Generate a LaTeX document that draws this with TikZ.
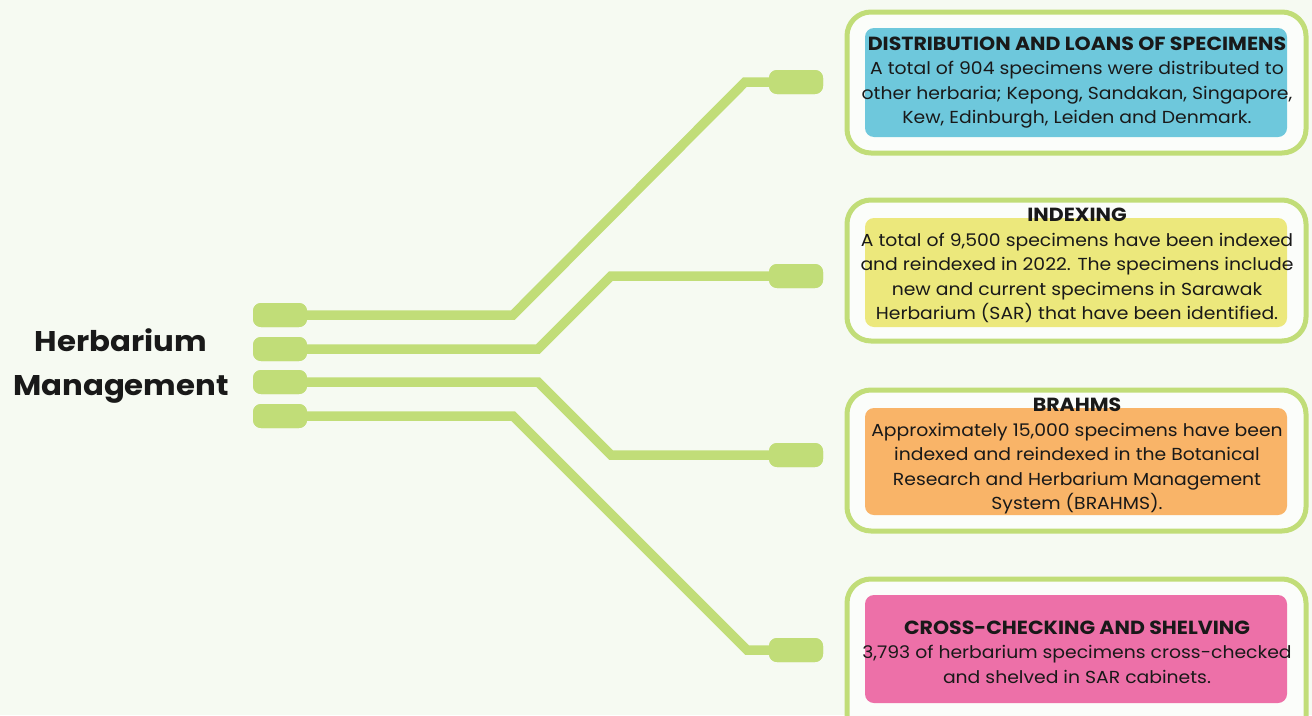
\documentclass[tikz,border=0pt]{standalone}
\usepackage{fontspec}
\setmainfont{Poppins}[FakeStretch=1.08]
\definecolor{bg}{RGB}{246,250,242}
\definecolor{leaf}{RGB}{193,221,120}
\definecolor{cblue}{RGB}{110,200,220}
\definecolor{cyellow}{RGB}{236,232,124}
\definecolor{corange}{RGB}{249,180,104}
\definecolor{cpink}{RGB}{237,112,168}
\definecolor{ink}{RGB}{25,25,25}
\newcommand{\cardtitle}[1]{{\fontsize{19}{24.5}\selectfont\bfseries #1}}
\begin{document}
\begin{tikzpicture}[x=1pt,y=-1pt,
  pad/.style={fill=leaf, rounded corners=8pt, minimum width=54pt, minimum height=24pt, inner sep=0pt},
  wire/.style={draw=leaf, line width=9.5pt, line join=miter},
  frame/.style={draw=leaf, line width=5pt, fill=white!60!bg, rounded corners=24pt},
  card/.style={rounded corners=9pt},
  txt/.style={align=center, text=ink, font=\fontsize{17.4}{24.5}\selectfont}
]
\useasboundingbox[fill=bg] (0,0) rectangle (1312,715);

% frames and cards
\draw[frame] (847,12) rectangle (1306,153);
\fill[card,cblue] (865,28) rectangle (1287,137);
\draw[frame] (847,200) rectangle (1306,341);
\fill[card,cyellow] (865,218) rectangle (1287,327);
\draw[frame] (847,390) rectangle (1306,531);
\fill[card,corange] (865,408) rectangle (1287,515);
\draw[frame] (847,579) rectangle (1306,740);
\fill[card,cpink] (865,595) rectangle (1287,703);

% pads
\node[pad] (L1) at (280,315) {};
\node[pad] (L2) at (280,349) {};
\node[pad] (L3) at (280,382) {};
\node[pad] (L4) at (280,416) {};
\node[pad] (R1) at (796,82) {};
\node[pad] (R2) at (796,276) {};
\node[pad] (R3) at (796,455) {};
\node[pad] (R4) at (796,650) {};

\coordinate (b1a) at (513,315); \coordinate (b1b) at (745,82);
\coordinate (b2a) at (538,349); \coordinate (b2b) at (611,276);
\coordinate (b3a) at (538,382); \coordinate (b3b) at (611,455);
\coordinate (b4a) at (513,416); \coordinate (b4b) at (747,650);

\draw[wire] (L1.center) -- (b1a) -- (b1b) -- (R1.center);
\draw[wire] (L2.center) -- (b2a) -- (b2b) -- (R2.center);
\draw[wire] (L3.center) -- (b3a) -- (b3b) -- (R3.center);
\draw[wire] (L4.center) -- (b4a) -- (b4b) -- (R4.center);
\node[pad] at (280,315) {};
\node[pad] at (280,349) {};
\node[pad] at (280,382) {};
\node[pad] at (280,416) {};
\node[pad] at (796,82) {};
\node[pad] at (796,276) {};
\node[pad] at (796,455) {};
\node[pad] at (796,650) {};

% title
\node[align=center, text=ink, font=\fontsize{28.5}{44}\selectfont\bfseries] (main) at (121,366) {Herbarium\\Management};

% texts
\node[txt] (t1) at (1077,82.5) {\cardtitle{DISTRIBUTION AND LOANS OF SPECIMENS}\\A total of 904 specimens were distributed to\\other herbaria; Kepong, Sandakan, Singapore,\\Kew, Edinburgh, Leiden and Denmark.};
\node[txt] (t2) at (1077,265.5) {\cardtitle{INDEXING}\\A total of 9,500 specimens have been indexed\\and reindexed in 2022. The specimens include\\new and current specimens in Sarawak\\Herbarium (SAR) that have been identified.};
\node[txt] (t3) at (1077,456) {\cardtitle{BRAHMS}\\Approximately 15,000 specimens have been\\indexed and reindexed in the Botanical\\Research and Herbarium Management\\System (BRAHMS).};
\node[txt] (t4) at (1077,652) {\cardtitle{CROSS-CHECKING AND SHELVING}\\3,793 of herbarium specimens cross-checked\\and shelved in SAR cabinets.};
\end{tikzpicture}
\end{document}
